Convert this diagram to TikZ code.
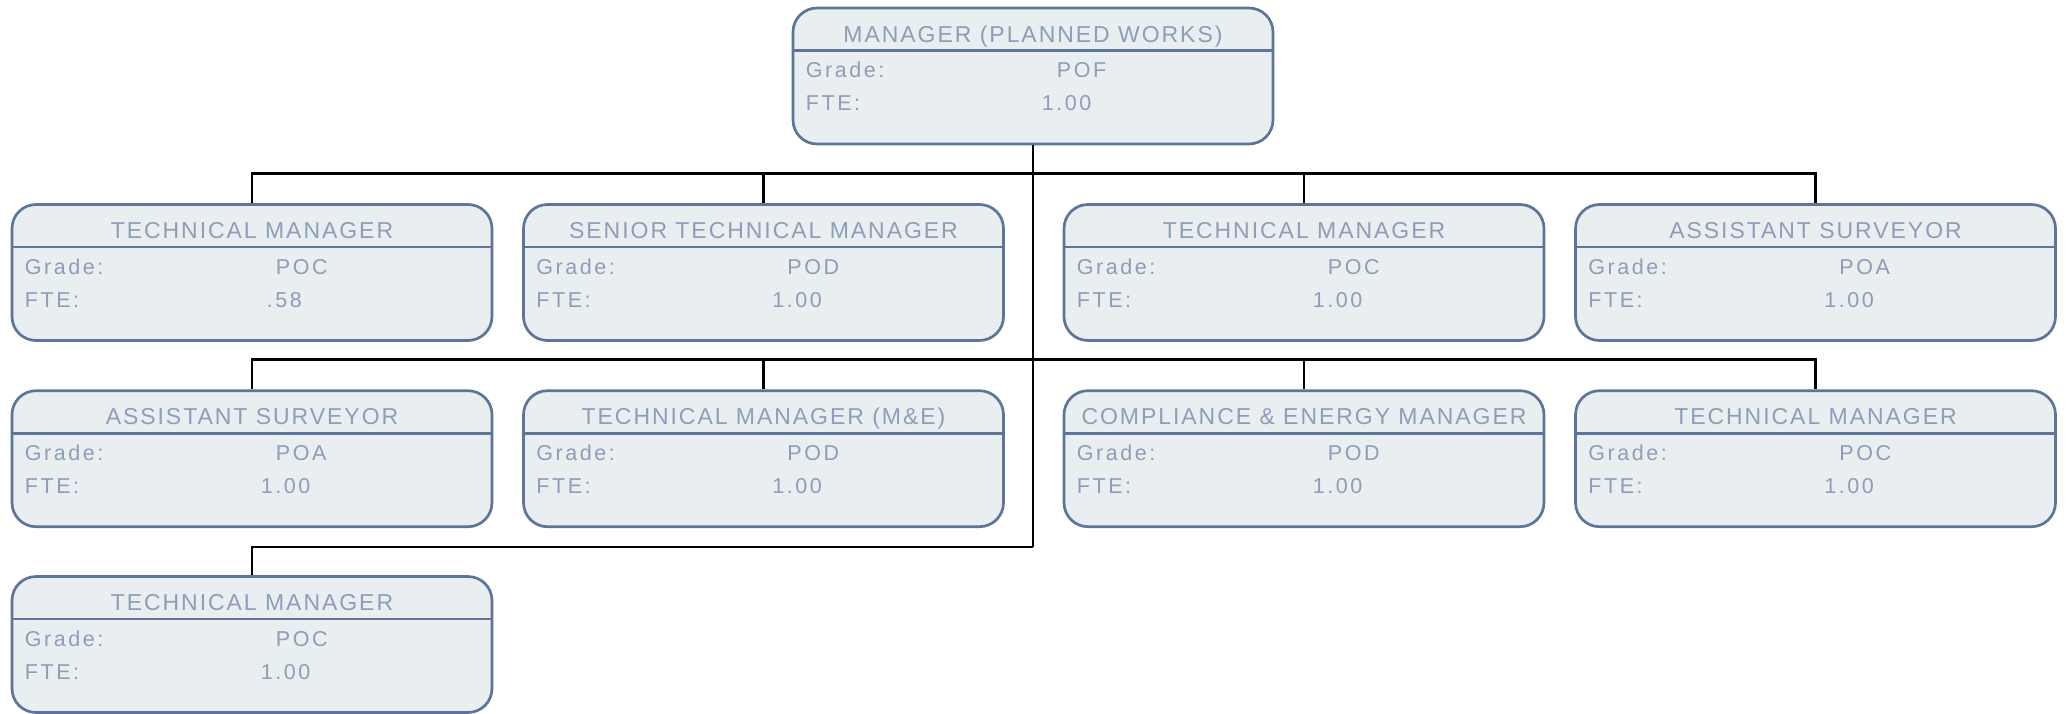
\documentclass[tikz,border=0pt]{standalone}
\usepackage{fontspec}
\setmainfont{Liberation Sans}
\newfontfamily\titlefont[LetterSpace=8.5]{Liberation Sans}
\newfontfamily\bodyfont[LetterSpace=12]{Liberation Sans}
\usetikzlibrary{calc}

\definecolor{boxline}{RGB}{93,117,153}
\definecolor{boxfill}{RGB}{233,238,241}
\definecolor{boxtext}{RGB}{140,158,184}

% one post: name, x, y, title, grade, fte
\newcommand{\staffpost}[6]{%
    \node[postbox] (#1) at (#2,#3) {};
    \draw[divider] ($(#1.north west)+(0,44)$) -- ($(#1.north east)+(0,44)$);
    \node[titletext] (#1-title) at ($(#1.north)+(0,35.5)$) {#4};
    \node[bodytext] (#1-gl) at ($(#1.north west)+(14,71)$) {Grade:};
    \node[bodytext] (#1-gv) at ($(#1.north west)+(265,71)$) {#5};
    \node[bodytext] (#1-fl) at ($(#1.north west)+(14,104)$) {FTE:};
    \node[bodytext] (#1-fv) at ($(#1.north west)+(250,104)$) {#6};
}

\begin{document}
\begin{tikzpicture}[x=1pt, y=-1pt,
        postbox/.style={draw=boxline, fill=boxfill, line width=2.7pt,
            rounded corners=24pt, minimum width=480pt, minimum height=136pt, inner sep=0pt},
        divider/.style={boxline, line width=2.4pt},
        titletext/.style={anchor=base, inner sep=0pt, text=boxtext,
            font=\titlefont\fontsize{23}{27}\selectfont},
        bodytext/.style={anchor=base west, inner sep=0pt, text=boxtext,
            font=\bodyfont\fontsize{21.5}{25}\selectfont},
        link/.style={black, line width=2.7pt}]
        \useasboundingbox (0,0) rectangle (2067,713);

        % Manager
        \staffpost{mgr}{1033}{76}{MANAGER (PLANNED WORKS)}{POF}{1.00}

        % First row
        \staffpost{ra}{252}{272.5}{TECHNICAL MANAGER}{POC}{\hspace{6pt}.58}
        \staffpost{rb}{763.5}{272.5}{SENIOR TECHNICAL MANAGER}{POD}{1.00}
        \staffpost{rc}{1304}{272.5}{TECHNICAL MANAGER}{POC}{1.00}
        \staffpost{rd}{1815.5}{272.5}{ASSISTANT SURVEYOR}{POA}{1.00}

        % Second row
        \staffpost{sa}{252}{458.7}{ASSISTANT SURVEYOR}{POA}{1.00}
        \staffpost{sb}{763.5}{458.7}{TECHNICAL MANAGER (M\&E)}{POD}{1.00}
        \staffpost{sc}{1304}{458.7}{COMPLIANCE \& ENERGY MANAGER}{POD}{1.00}
        \staffpost{sd}{1815.5}{458.7}{TECHNICAL MANAGER}{POC}{1.00}

        % Third row
        \staffpost{ta}{252}{644.5}{TECHNICAL MANAGER}{POC}{1.00}

        % Reporting lines
        \coordinate (trunk) at (mgr.south |- 0,547);
        \draw[link] (mgr.south) -- (trunk);
        \draw[link] (ra.north) -- ++(0,-30) -| (rd.north);
        \draw[link] (rb.north) -- ++(0,-30);
        \draw[link] (rc.north) -- ++(0,-30);
        \draw[link] (sa.north) -- ++(0,-30) -| (sd.north);
        \draw[link] (sb.north) -- ++(0,-30);
        \draw[link] (sc.north) -- ++(0,-30);
        \draw[link] (ta.north) |- (trunk);
    \end{tikzpicture}
\end{document}
